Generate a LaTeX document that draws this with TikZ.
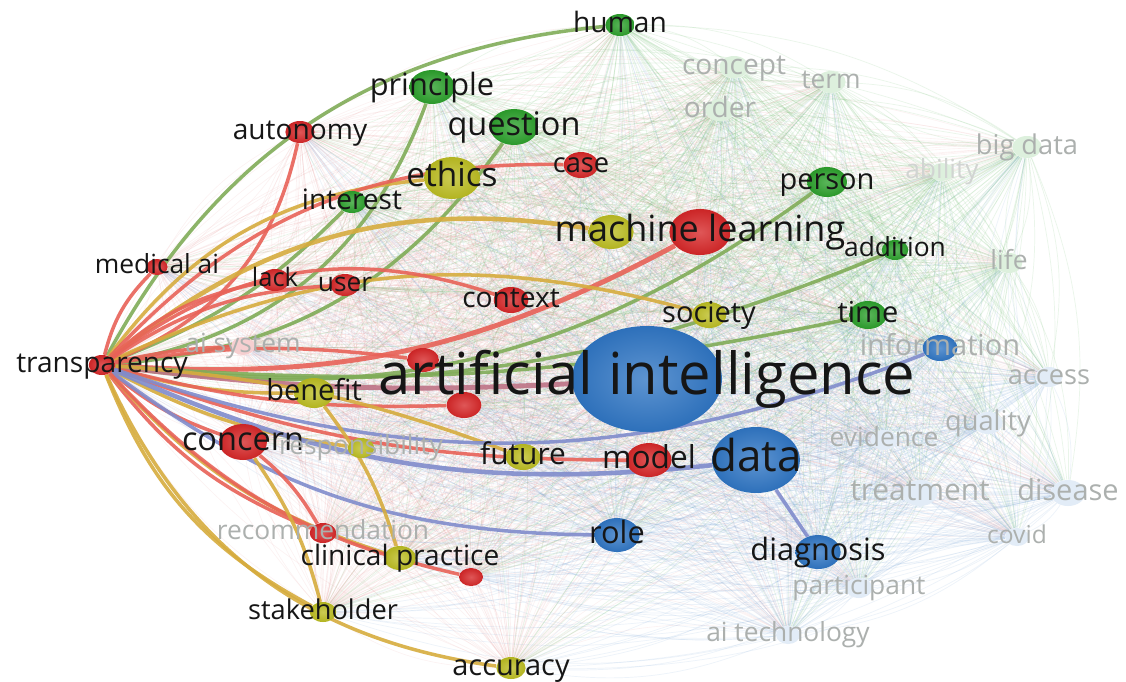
\documentclass[tikz,border=0pt]{standalone}
\usepackage{fontspec}
\setmainfont{Open Sans}
\usetikzlibrary{shapes.geometric}

\definecolor{vred}{RGB}{214,39,40}
\definecolor{vgreen}{RGB}{44,160,44}
\definecolor{vblue}{RGB}{48,118,196}
\definecolor{vyellow}{RGB}{188,189,34}
\definecolor{ink}{RGB}{22,22,22}
\definecolor{fadetxt}{RGB}{172,176,174}
\definecolor{lred}{RGB}{232,98,88}
\definecolor{lgreen}{RGB}{128,172,88}
\definecolor{lyellow}{RGB}{214,172,62}
\definecolor{lblue}{RGB}{128,140,204}

\pgfdeclarelayer{haze}
\pgfdeclarelayer{links}
\pgfsetlayers{haze,links,main}

% keyword groups for the faint background links
\newcommand{\redkw}{tr,autonomy,case,ml,medai,lack,user,context,aisys,r1,r2,concern,model,recom,r3,ethics,y1,society,benefit,resp,future,clinical,stake,accuracy}
\newcommand{\greenkw}{human,principle,question,interest,person,addition,time,concept,term,order,bigdata,ability,life}
\newcommand{\bluekw}{ai,info,access,quality,evidence,data,treat,disease,role,diag,covid,partic,aitech}
\newcommand{\allkw}{tr,autonomy,case,ml,medai,lack,user,context,aisys,r1,r2,concern,model,recom,r3,ethics,y1,society,benefit,resp,future,clinical,stake,accuracy,human,principle,question,interest,person,addition,time,concept,term,order,bigdata,ability,life,ai,info,access,quality,evidence,data,treat,disease,role,diag,covid,partic,aitech}

\begin{document}
\begin{tikzpicture}[
		x=0.02cm, y=-0.02cm,
		every node/.style={inner sep=0pt},
		bub/.style={ellipse, minimum height={2*#1*0.02cm}, minimum width={2.66*#1*0.02cm}},
		kred/.style={inner color=vred!78!white, outer color=vred!95!black},
		kgreen/.style={inner color=vgreen!78!white, outer color=vgreen!95!black},
		kblue/.style={inner color=vblue!78!white, outer color=vblue!95!black},
		kyellow/.style={inner color=vyellow!78!white, outer color=vyellow!95!black},
		fred/.style={fill=vred!22},
		fgreen/.style={fill=vgreen!16},
		fblue/.style={fill=vblue!14},
		lbl/.style={font=\fontsize{#1}{#1}\selectfont, text=ink, text height={0.72*#1pt}, text depth={0.2*#1pt}},
		flbl/.style={lbl=#1, text=fadetxt},
		hl/.style={line width=2pt, opacity=0.9},
		hzred/.style={draw=vred!55, line width=0.35pt, opacity=0.11},
		hzgreen/.style={draw=vgreen!70, line width=0.4pt, opacity=0.14},
		hzblue/.style={draw=vblue!70, line width=0.4pt, opacity=0.12}
	]
  \useasboundingbox (0,0) rectangle (1126,681);

  % cluster 1 (red)
  \node (tr) [bub=10, kred] at (102,365) {};
  \node (autonomy) [bub=11, kred] at (300,132) {};
  \node (case) [bub=13, kred] at (581,165) {};
  \node (ml) [bub=23, kred] at (700,232) {};
  \node (medai) [bub=8, kred] at (157,267) {};
  \node (lack) [bub=11, kred] at (275,280) {};
  \node (user) [bub=11, kred] at (345,285) {};
  \node (context) [bub=13, kred] at (511,300) {};
  \node (aisys) [bub=9, fred] at (243,346) {};
  \node (r1) [bub=12, kred] at (423,360) {};
  \node (r2) [bub=13, kred] at (464,405) {};
  \node (concern) [bub=18, kred] at (243,442) {};
  \node (model) [bub=17, kred] at (649,460) {};
  \node (recom) [bub=10, kred] at (323,533) {};
  \node (r3) [bub=9, kred] at (471,577) {};

  % cluster 2 (green)
  \node (human) [bub=11, kgreen] at (620,25) {};
  \node (principle) [bub=17, kgreen] at (432,87) {};
  \node (question) [bub=18, kgreen] at (514,127) {};
  \node (interest) [bub=11, kgreen] at (352,202) {};
  \node (person) [bub=15, kgreen] at (827,182) {};
  \node (addition) [bub=10, kgreen] at (895,250) {};
  \node (time) [bub=14, kgreen] at (868,315) {};
  \node (concept) [bub=11, fgreen] at (734,67) {};
  \node (term) [bub=11, fgreen] at (831,82) {};
  \node (order) [bub=11, fgreen] at (720,110) {};
  \node (bigdata) [bub=11, fgreen] at (1027,147) {};
  \node (ability) [bub=9, fgreen] at (942,172) {};
  \node (life) [bub=10, fgreen] at (1009,263) {};

  % cluster 4 (yellow)
  \node (ethics) [bub=21, kyellow] at (452,178) {};
  \node (y1) [bub=17, kyellow] at (611,232) {};
  \node (society) [bub=13, kyellow] at (709,315) {};
  \node (benefit) [bub=15, kyellow] at (314,393) {};
  \node (resp) [bub=10, kyellow] at (361,448) {};
  \node (future) [bub=13, kyellow] at (523,457) {};
  \node (clinical) [bub=12, kyellow] at (400,558) {};
  \node (stake) [bub=10, kyellow] at (323,612) {};
  \node (accuracy) [bub=11, kyellow] at (511,668) {};

  % cluster 3 (blue)
  \node (ai) [bub=53, kblue, minimum width=150*0.02cm] at (647,379) {};
  \node (info) [bub=13, kblue] at (940,348) {};
  \node (access) [bub=10, fblue] at (1049,377) {};
  \node (quality) [bub=11, fblue] at (988,423) {};
  \node (evidence) [bub=10, fblue] at (884,440) {};
  \node (data) [bub=33, kblue] at (756,460) {};
  \node (treat) [bub=13, fblue] at (920,493) {};
  \node (disease) [bub=13, fblue] at (1068,493) {};
  \node (role) [bub=17, kblue] at (617,535) {};
  \node (diag) [bub=17, kblue] at (818,552) {};
  \node (covid) [bub=9, fblue] at (1017,537) {};
  \node (partic) [bub=10, fblue] at (859,588) {};
  \node (aitech) [bub=9, fblue] at (788,635) {};

  % faint co-occurrence links
  \begin{pgfonlayer}{haze}
    \fill[white] (0,0) rectangle (1126,681);
    \foreach \a in \redkw \foreach \b in \allkw
      {\ifx\a\b\else\draw[hzred] (\a) to[bend left=16] (\b);\fi}
    \foreach \a in \greenkw \foreach \b in \allkw
      {\ifx\a\b\else\draw[hzgreen] (\a) to[bend left=16] (\b);\fi}
    \foreach \a in \bluekw \foreach \b in \allkw
      {\ifx\a\b\else\draw[hzblue] (\a) to[bend left=16] (\b);\fi}
  \end{pgfonlayer}

  % links of transparency
  \begin{pgfonlayer}{links}
    \draw[hl, lgreen] (tr) to[bend left=28] (human);
    \draw[hl, lgreen] (tr) to[bend right=30] (principle);
    \draw[hl, lgreen] (tr) to[bend right=25] (question);
    \draw[hl, lgreen] (tr) to[bend right=12] (interest);
    \draw[hl, lred] (tr) to[bend right=28] (autonomy);
    \draw[hl, lyellow] (tr) to[bend left=24] (ethics);
    \draw[hl, lred] (tr) to[bend left=24] (case);
    \draw[hl, lyellow, line width=2.6pt] (tr) to[bend left=24] (y1);
    \draw[hl, lred, line width=2.8pt] (tr) to[bend right=16] (ml);
    \draw[hl, lgreen] (tr) to[bend right=22] (person);
    \draw[hl, lgreen] (tr) to[bend right=14] (addition);
    \draw[hl, lgreen] (tr) to[bend right=8] (time);
    \draw[hl, lyellow] (tr) to[bend left=20] (society);
    \draw[hl, lred] (tr) to[bend left=28] (context);
    \draw[hl, lred] (tr) to[bend left=15] (medai);
    \draw[hl, lred] (tr) to[bend left=15] (lack);
    \draw[hl, lred] (tr) to[bend left=15] (user);
    \draw[hl, lred] (tr) to[bend left=5] (aisys);
    \draw[hl, lred] (tr) to[bend left=8] (r1);
    \draw[hl, lred!60!lblue, line width=2.8pt] (tr) to[bend right=5] (ai);
    \draw[hl, lyellow] (tr) to[bend right=8] (benefit);
    \draw[hl, lred] (tr) to[bend right=8] (r2);
    \draw[hl, lred] (tr) to[bend right=10] (concern);
    \draw[hl, lyellow] (tr) to[bend right=10] (resp);
    \draw[hl, lyellow] (tr) to[bend left=8] (future);
    \draw[hl, lred] (tr) to[bend right=10] (model);
    \draw[hl, lblue, line width=2.6pt] (tr) to[bend right=15] (data);
    \draw[hl, lblue] (tr) to[bend right=18] (role);
    \draw[hl, lblue] (tr) to[bend right=20] (info);
    \draw[hl, lred] (tr) to[bend right=15] (recom);
    \draw[hl, lyellow] (tr) to[bend right=15] (clinical);
    \draw[hl, lred] (tr) to[bend right=17] (r3);
    \draw[hl, lyellow] (tr) to[bend right=20] (stake);
    \draw[hl, lyellow] (tr) to[bend right=29] (accuracy);
    \draw[hl, lblue] (data) -- (diag);
    \draw[hl, lyellow] (concern) to[bend left=10] (stake);
    \draw[hl, lred] (concern) to[bend left=10] (recom);
    \draw[hl, lyellow] (benefit) to[bend left=10] (clinical);
  \end{pgfonlayer}

  % labels
  \node (tr_label) [lbl=16] at (tr) {transparency};
  \node (autonomy_label) [lbl=16] at (autonomy) {autonomy};
  \node (case_label) [lbl=15.5] at (case) {case};
  \node (ml_label) [lbl=20.5] at (ml) {machine learning};
  \node (medai_label) [lbl=15] at (medai) {medical ai};
  \node (lack_label) [lbl=14.5] at (lack) {lack};
  \node (user_label) [lbl=15] at (user) {user};
  \node (context_label) [lbl=16] at (context) {context};
  \node (aisys_label) [flbl=15] at (aisys) {ai system};
  \node (concern_label) [lbl=18.5] at (concern) {concern};
  \node (model_label) [lbl=18] at (model) {model};
  \node (recom_label) [flbl=15] at (recom) {recommendation};
  \node (human_label) [lbl=16] at (human) {human};
  \node (principle_label) [lbl=17.5] at (principle) {principle};
  \node (question_label) [lbl=18.5] at (question) {question};
  \node (interest_label) [lbl=16] at (interest) {interest};
  \node (person_label) [lbl=16.5] at (person) {person};
  \node (addition_label) [lbl=15] at (addition) {addition};
  \node (time_label) [lbl=16.5] at (time) {time};
  \node (concept_label) [flbl=16] at (concept) {concept};
  \node (term_label) [flbl=15] at (term) {term};
  \node (order_label) [flbl=16] at (order) {order};
  \node (bigdata_label) [flbl=15.5] at (bigdata) {big data};
  \node (ability_label) [flbl=15, text=fadetxt!55!white] at (ability) {ability};
  \node (life_label) [flbl=15] at (life) {life};
  \node (ethics_label) [lbl=19] at (ethics) {ethics};
  \node (society_label) [lbl=16.5] at (society) {society};
  \node (benefit_label) [lbl=16.5] at (benefit) {benefit};
  \node (resp_label) [flbl=15] at (resp) {responsibility};
  \node (future_label) [lbl=17] at (future) {future};
  \node (clinical_label) [lbl=16] at (clinical) {clinical practice};
  \node (stake_label) [lbl=15.5] at (stake) {stakeholder};
  \node (accuracy_label) [lbl=16.5] at (accuracy) {accuracy};
  \node (ai_label) [lbl=33] at (ai) {artificial intelligence};
  \node (info_label) [flbl=16.5] at (info) {information};
  \node (access_label) [flbl=15.5] at (access) {access};
  \node (quality_label) [flbl=15.5] at (quality) {quality};
  \node (evidence_label) [flbl=15] at (evidence) {evidence};
  \node (data_label) [lbl=25] at (data) {data};
  \node (treat_label) [flbl=17] at (treat) {treatment};
  \node (disease_label) [flbl=16.5] at (disease) {disease};
  \node (role_label) [lbl=17.5] at (role) {role};
  \node (diag_label) [lbl=17.5] at (diag) {diagnosis};
  \node (covid_label) [flbl=14] at (covid) {covid};
  \node (partic_label) [flbl=15] at (partic) {participant};
  \node (aitech_label) [flbl=15] at (aitech) {ai technology};
\end{tikzpicture}
\end{document}
